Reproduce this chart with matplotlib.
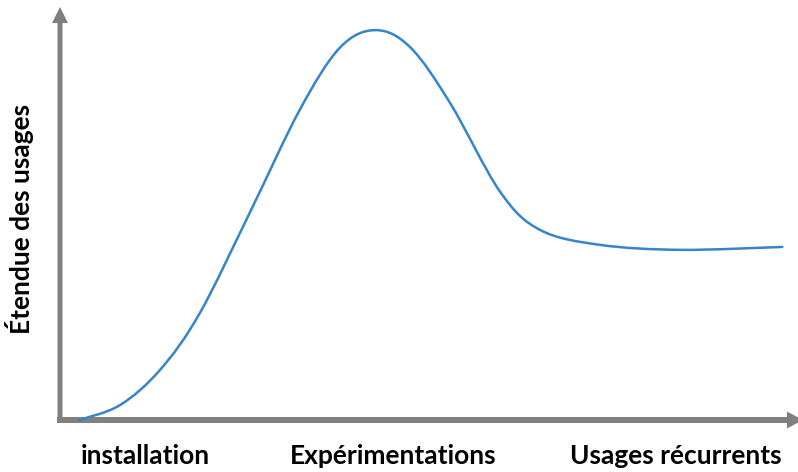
import numpy as np
import matplotlib.pyplot as plt
from matplotlib.path import Path
from matplotlib.patches import PathPatch

# points (x: temps, y: étendue des usages, 0-100)
temps = [2.6, 8.1, 13.5, 18.9, 25.7, 32.4, 37.8, 42.6, 47.3, 52.7, 59.5,
         64.9, 73.0, 83.8, 97.6]
etendue = [0.0, 3.6, 12.1, 25.9, 50.4, 75.1, 90.1, 94.4, 90.3, 76.8, 55.2,
           46.0, 42.4, 41.2, 41.9]
phases = ['installation', 'Expérimentations', 'Usages récurrents']
phases_px = [145, 393, 676]
ylabel = 'Étendue des usages'

W, H = 798, 472
fig = plt.figure(figsize=(W / 100, H / 100), dpi=100)
ax = fig.add_axes([60 / W, 52 / H, 740 / W, 413 / H])
ax.set_xlim(0, 100)
ax.set_ylim(0, 100)
ax.axis('off')

gris = '#808080'
sx, sy = 100 / 740, 100 / 413   # unités par pixel
# axe vertical
ax.arrow(0, -3 * sy, 0, 100 + 3 * sy, width=5 * sx, head_width=16 * sx,
         head_length=16 * sy, length_includes_head=True, color=gris, lw=0,
         clip_on=False)
# axe horizontal
ax.arrow(-3 * sx, 0, 100.4 + 3 * sx, 0, width=6 * sy, head_width=17 * sy,
         head_length=16 * sx, length_includes_head=True, color=gris, lw=0,
         clip_on=False)

# courbe lissée (Catmull-Rom -> Bézier) passant par les points lus
P = np.column_stack([temps, etendue])
verts = [P[0]]
codes = [Path.MOVETO]
for i in range(len(P) - 1):
    p0 = P[i - 1] if i > 0 else P[i]
    p1, p2 = P[i], P[i + 1]
    p3 = P[i + 2] if i + 2 < len(P) else P[i + 1]
    verts += [p1 + (p2 - p0) / 6, p2 - (p3 - p1) / 6, p2]
    codes += [Path.CURVE4] * 3
ax.add_patch(PathPatch(Path(verts, codes), fill=False, edgecolor='#3585c8',
                       lw=1.8, capstyle='round', joinstyle='round', clip_on=False))

fnt = dict(family=['Lato', 'DejaVu Sans'], weight='bold', fontsize=19)
for p, xp in zip(phases, phases_px):
    fig.text(xp / W, 1 - 456 / H, p, ha='center', va='center', **fnt)
fig.text(20 / W, 1 - 219 / H, ylabel, rotation=90, ha='center', va='center', **fnt)

fig.savefig('out.png', dpi=100)
